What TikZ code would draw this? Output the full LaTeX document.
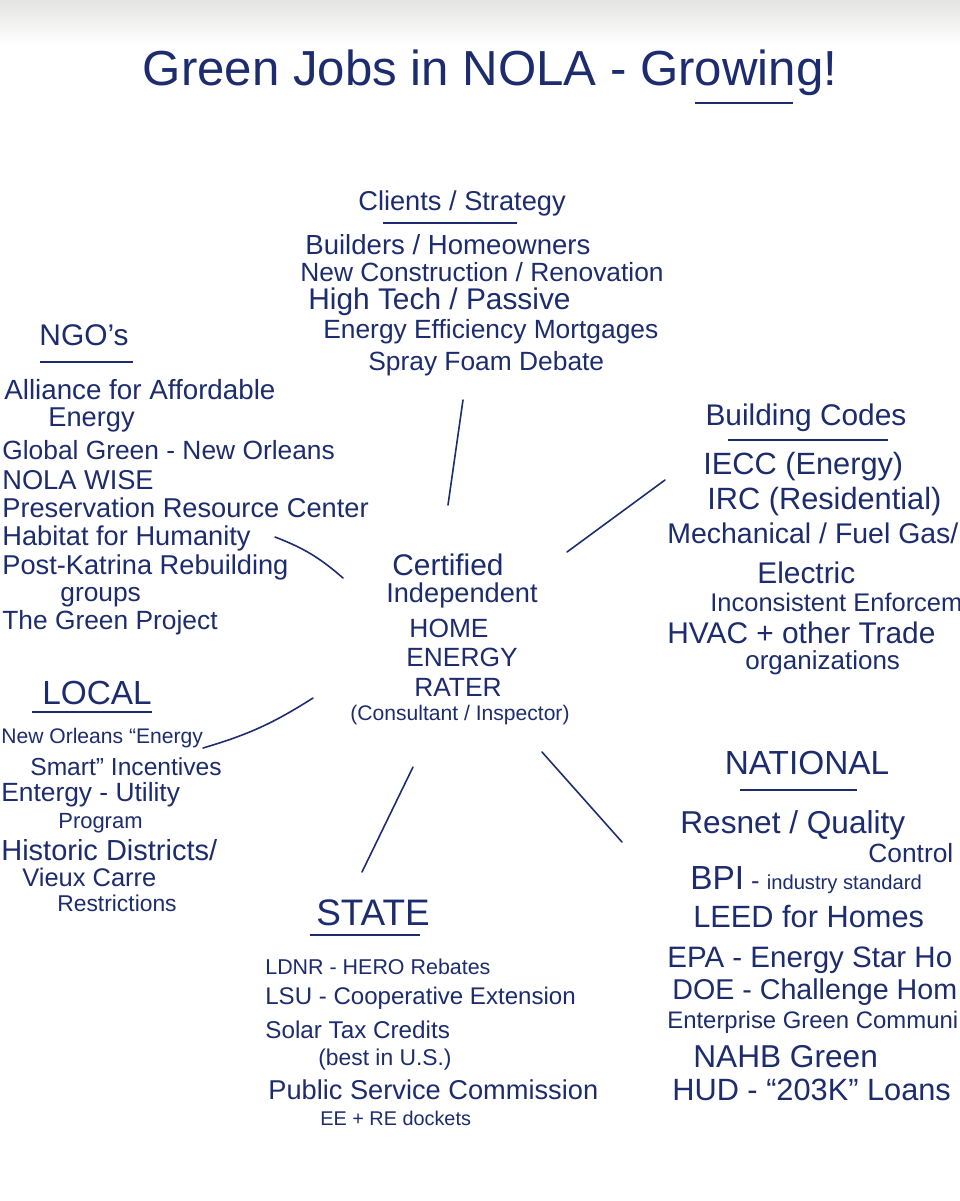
\documentclass[tikz,border=0pt]{standalone}
\usepackage{fontspec}
\setmainfont{Liberation Sans}
\usepackage{tikz}
\usetikzlibrary{positioning,calc}
\definecolor{ink}{HTML}{1D2C6E}
\definecolor{paper}{HTML}{E4E4E2}

\begin{document}
\begin{tikzpicture}[x=0.02cm, y=-0.02cm, ink,
    entry/.style={anchor=west, inner sep=0pt, font=\fontsize{#1}{18}\selectfont},
    entry/.default=14.5,
    centre/.style={inner sep=0pt, font=\fontsize{#1}{18}\selectfont},
    centre/.default=15,
    heading/.style={inner sep=0pt, font=\fontsize{#1}{22}\selectfont},
    heading/.default=17,
    uline/.style={line width=0.9pt},
    link/.style={line width=0.9pt, line cap=round}]
        \useasboundingbox (0,0) rectangle (960,1201);
        \fill[white] (0,0) rectangle (960,1201);
        \shade[top color=paper, bottom color=white] (0,0) rectangle (960,45);

        % title
        \node[heading=28] (title) at (490,73) {Green Jobs in NOLA - Growing!};
        \draw[uline] (695,103) -- (793,103);

        % clients / strategy
        \begin{scope}
            \node[heading=15.5, anchor=west] (clients) at (358,203) {Clients / Strategy};
            \draw[uline] (383,223) -- (517,223);
            \node[entry=15.7] (clients1) at (305,245) {Builders / Homeowners};
            \node[entry=15] (clients2) at (300,272) {New Construction / Renovation};
            \node[entry=17] (clients3) at (308,302) {High Tech / Passive};
            \node[entry=15] (clients4) at (323,332) {Energy Efficiency Mortgages};
            \node[entry=15] (clients5) at (368,364) {Spray Foam Debate};
        \end{scope}

        % NGO's
        \begin{scope}
            \node[heading] (ngo) at (84,335) {NGO's};
            \draw[uline] (40,362) -- (133,362);
            \node[entry=15.8] (ngo1) at (4,390) {Alliance for Affordable};
            \node[entry=15.5] (ngo2) at (48,420) {Energy};
            \node[entry=15] (ngo3) at (2,450) {Global Green - New Orleans};
            \node[entry=15.5] (ngo4) at (2,480) {NOLA WISE};
            \node[entry=15.5] (ngo5) at (2,508) {Preservation Resource Center};
            \node[entry=15.5] (ngo6) at (2,538) {Habitat for Humanity};
            \node[entry=15.5] (ngo7) at (2,567) {Post-Katrina Rebuilding};
            \node[entry=15] (ngo8) at (60,597) {groups};
            \node[entry=15] (ngo9) at (2,623) {The Green Project};
        \end{scope}

        % certified rater (hub)
        \begin{scope}
            \node[centre=17] (rater1) at (448,565) {Certified};
            \node[centre=15.5] (rater2) at (462,595) {Independent};
            \node[centre] (rater3) at (449,628) {HOME};
            \node[centre] (rater4) at (462,657) {ENERGY};
            \node[centre] (rater5) at (458,687) {RATER};
            \node[centre=12] (rater6) at (460,715) {(Consultant / Inspector)};
        \end{scope}

        % building codes
        \begin{scope}
            \node[heading] (codes) at (806,418) {Building Codes};
            \draw[uline] (728,440) -- (888,440);
            \node[entry=17.5] (codes1) at (703,467) {IECC (Energy)};
            \node[entry=17.5] (codes2) at (707,502) {IRC (Residential)};
            \node[entry=16.2] (codes3) at (667,533) {Mechanical / Fuel Gas/};
            \node[entry=17] (codes4) at (757,573) {Electric};
            \node[entry=14.5] (codes5) at (710,602) {Inconsistent Enforcem};
            \node[entry=17] (codes6) at (667,633) {HVAC + other Trade};
            \node[entry=14.8] (codes7) at (745,663) {organizations};
        \end{scope}

        % LOCAL
        \begin{scope}
            \node[heading=19] (local) at (97,693) {LOCAL};
            \draw[uline] (32,712) -- (152,712);
            \node[entry=12] (local1) at (1,738) {New Orleans ``Energy};
            \node[entry=14] (local2) at (30,767) {Smart'' Incentives};
            \node[entry=15] (local3) at (1,795) {Entergy - Utility};
            \node[entry=12.5] (local4) at (58,823) {Program};
            \node[entry=16.5] (local5) at (1,850) {Historic Districts/};
            \node[entry=14.5] (local6) at (22,877) {Vieux Carre};
            \node[entry=13] (local7) at (57,903) {Restrictions};
        \end{scope}

        % NATIONAL
        \begin{scope}
            \node[heading=19] (national) at (807,763) {NATIONAL};
            \draw[uline] (740,790) -- (857,790);
            \node[entry=18] (national1) at (680,825) {Resnet / Quality};
            \node[entry=15] (national2) at (868,853) {Control};
            \node[entry] (national3) at (690,880) {{\fontsize{19}{20}\selectfont BPI} - {\fontsize{11.5}{12}\selectfont industry standard}};
            \node[entry=17.5] (national4) at (693,917) {LEED for Homes};
            \node[entry=16.8] (national5) at (667,960) {EPA - Energy Star Ho};
            \node[entry=16.3] (national6) at (672,992) {DOE - Challenge Hom};
            \node[entry=13.6] (national7) at (667,1022) {Enterprise Green Communi};
            \node[entry=18] (national8) at (693,1057) {NAHB Green};
            \node[entry=17.5] (national9) at (672,1090) {HUD - ``203K'' Loans};
        \end{scope}

        % STATE
        \begin{scope}
            \node[heading=21] (state) at (373,913) {STATE};
            \draw[uline] (310,935) -- (420,935);
            \node[entry=12.2] (state1) at (265,967) {LDNR - HERO Rebates};
            \node[entry=13.7] (state2) at (265,998) {LSU - Cooperative Extension};
            \node[entry=13.8] (state3) at (265,1030) {Solar Tax Credits};
            \node[entry=13] (state4) at (318,1060) {(best in U.S.)};
            \node[entry=15.5] (state5) at (268,1090) {Public Service Commission};
            \node[entry=11.3] (state6) at (320,1118) {EE + RE dockets};
        \end{scope}

        % spokes
        \coordinate (clients-end) at (463,400);
        \coordinate (hub-n) at (448,505);
        \coordinate (ngo-end) at (275,537);
        \coordinate (hub-nw) at (343,578);
        \coordinate (codes-end) at (665,480);
        \coordinate (hub-ne) at (567,552);
        \coordinate (local-end) at (203,748);
        \coordinate (hub-sw) at (313,698);
        \coordinate (state-end) at (362,872);
        \coordinate (hub-s) at (413,767);
        \coordinate (national-end) at (622,842);
        \coordinate (hub-se) at (542,752);

        \draw[link] (clients-end) -- (hub-n);
        \draw[link] (ngo-end) to[bend left=10] (hub-nw);
        \draw[link] (codes-end) -- (hub-ne);
        \draw[link] (local-end) to[bend right=8] (hub-sw);
        \draw[link] (state-end) -- (hub-s);
        \draw[link] (national-end) -- (hub-se);
    \end{tikzpicture}
\end{document}
